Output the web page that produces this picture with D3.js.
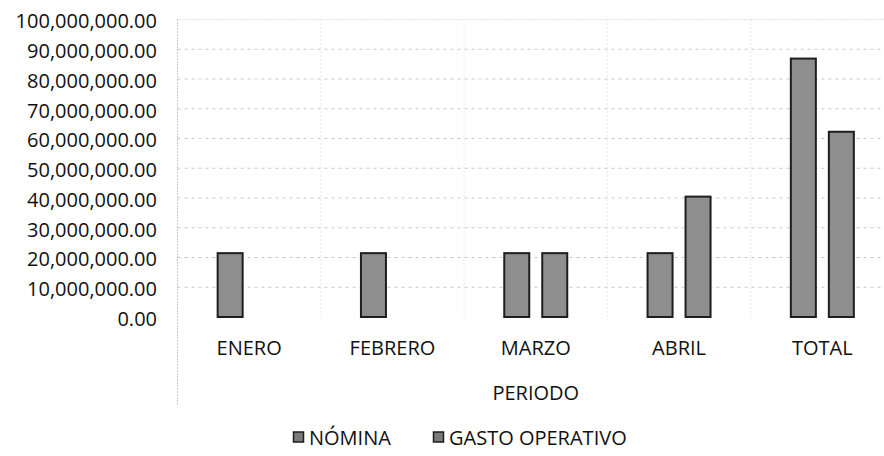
<!DOCTYPE html>
<html>
<head>
<meta charset="utf-8">
<script src="https://cdn.jsdelivr.net/npm/d3@7"></script>
<style>
  html, body { margin: 0; padding: 0; background: #fff; }
  svg { display: block; }
  text { font-family: "Open Sans", "Noto Sans", sans-serif; fill: #111; }
</style>
</head>
<body>
<svg id="chart" width="884" height="456"></svg>
<script>
const categories = ["ENERO", "FEBRERO", "MARZO", "ABRIL", "TOTAL"];
const seriesNames = ["NÓMINA", "GASTO OPERATIVO"];
const nomina = [21800000, 21800000, 21800000, 21800000, 87200000];
const gastoOperativo = [0, 0, 21800000, 40800000, 62600000];
const yTicks = [0, 10000000, 20000000, 30000000, 40000000, 50000000, 60000000, 70000000, 80000000, 90000000, 100000000];
const axisTitle = "PERIODO";

const svg = d3.select("#chart");
const plotTop = 19.5, plotBottom = 317, plotLeft = 177.5, plotRight = 894;

const x0 = d3.scaleBand().domain(categories).range([plotLeft, plotRight]).padding(0);
const bw = x0.bandwidth();
const x1 = d3.scaleBand().domain(seriesNames)
  .range([bw / 2 - 32.5, bw / 2 + 32.5]).paddingInner(0.2895).paddingOuter(0);
const y = d3.scaleLinear().domain([0, 100000000]).range([plotBottom, plotTop]);

// gridlines
const grid = svg.append("g");
grid.selectAll("line.h").data(yTicks.slice(1)).join("line")
  .attr("class", "h")
  .attr("x1", plotLeft).attr("x2", 884)
  .attr("y1", d => y(d)).attr("y2", d => y(d))
  .attr("stroke", "#c8c8c8").attr("stroke-width", 1)
  .attr("stroke-dasharray", d => d === 100000000 ? "1,2" : "3,4");

// vertical separators between categories
grid.selectAll("line.v").data(categories.slice(1)).join("line")
  .attr("class", "v")
  .attr("x1", d => x0(d)).attr("x2", d => x0(d))
  .attr("y1", plotTop).attr("y2", plotBottom)
  .attr("stroke", "#d4d4d4").attr("stroke-dasharray", "1,3");

// left border extended down to cover category levels
svg.append("line")
  .attr("x1", plotLeft).attr("x2", plotLeft).attr("y1", plotTop).attr("y2", 405)
  .attr("stroke", "#999").attr("stroke-dasharray", "1,2");

// y axis
const yAxis = d3.axisLeft(y).tickValues(yTicks).tickFormat(d3.format(",.2f")).tickSize(0).tickPadding(0);
const ya = svg.append("g").attr("transform", "translate(157,2)").call(yAxis);
ya.select(".domain").remove();
ya.selectAll("text").attr("font-size", 20).attr("font-family", "Open Sans").attr("fill", "#111");

// bars
const rows = categories.map((c, i) => ({ cat: c, values: [nomina[i], gastoOperativo[i]] }));
const groups = svg.append("g").selectAll("g").data(rows).join("g")
  .attr("transform", d => `translate(${x0(d.cat)},0)`);
groups.selectAll("rect")
  .data(d => d.values.map((v, j) => ({ name: seriesNames[j], v })).filter(e => e.v > 0))
  .join("rect")
  .attr("x", d => x1(d.name) + 1)
  .attr("width", x1.bandwidth() - 2)
  .attr("y", d => y(d.v) + 1)
  .attr("height", d => y(0) - y(d.v) - 1)
  .attr("fill", "#8e8e8e")
  .attr("stroke", "#1e1e1e")
  .attr("stroke-width", 2);

// category labels
const xAxis = d3.axisBottom(x0).tickSize(0).tickPadding(0);
const xa = svg.append("g").attr("transform", `translate(0,341)`).call(xAxis);
xa.select(".domain").remove();
xa.selectAll("text").attr("font-size", 20).attr("font-family", "Open Sans").attr("fill", "#111").attr("dy", "0.71em");

// axis title
svg.append("text").attr("x", (plotLeft + plotRight) / 2).attr("y", 400)
  .attr("text-anchor", "middle").attr("font-size", 20).text(axisTitle);

// legend
const legendX = [293, 433];
const lg = svg.append("g").selectAll("g").data(seriesNames).join("g")
  .attr("transform", (d, i) => `translate(${legendX[i]},437)`);
lg.append("rect").attr("x", 0.5).attr("y", -5).attr("width", 10).attr("height", 10)
  .attr("fill", "#7a7a7a").attr("stroke", "#1e1e1e").attr("stroke-width", 1.5);
lg.append("text").attr("x", 16).attr("y", 7.5).attr("font-size", 20).text(d => d);
</script>
</body>
</html>
